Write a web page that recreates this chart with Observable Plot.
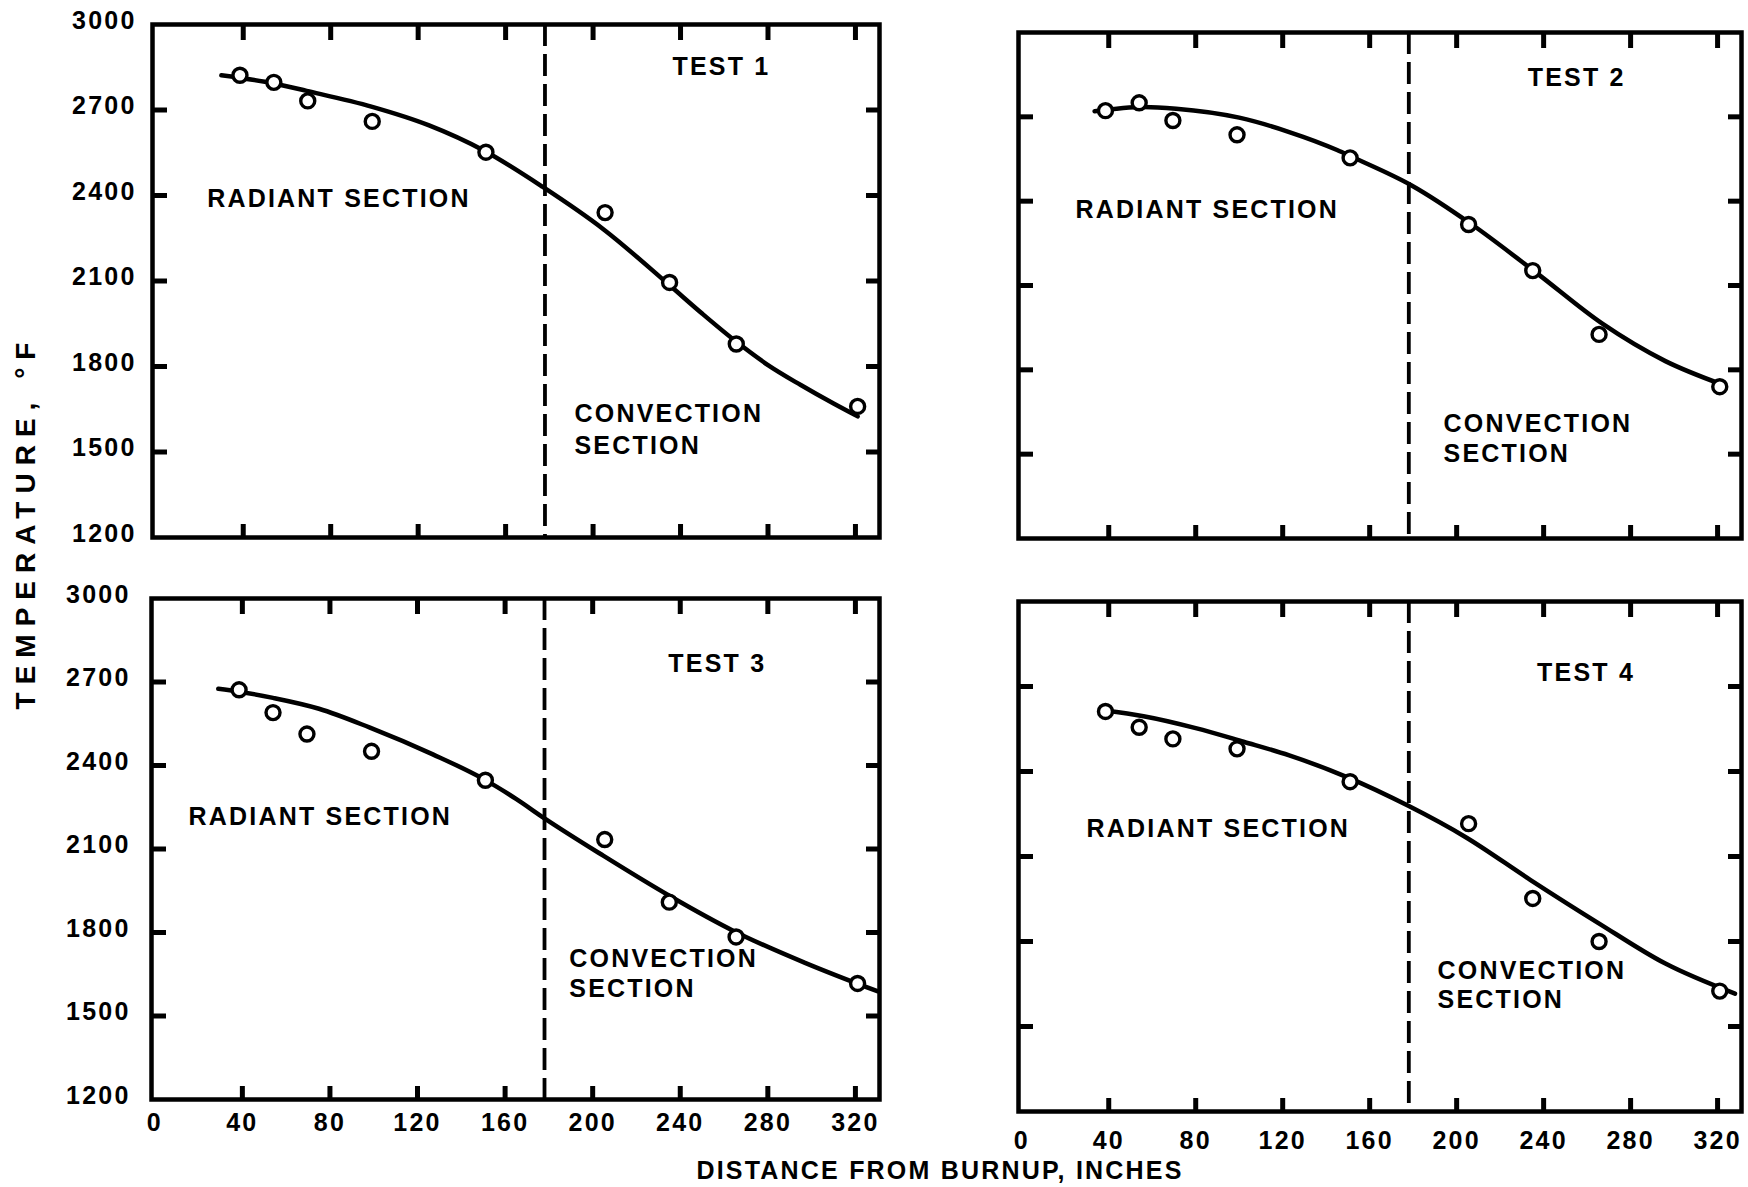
<!DOCTYPE html>
<html>
<head>
<meta charset="utf-8">
<script src="https://cdn.jsdelivr.net/npm/d3@7"></script>
<script src="https://cdn.jsdelivr.net/npm/@observablehq/plot@0.6"></script>
<style>
  html, body { margin: 0; padding: 0; background: #fff; overflow: hidden; }
  #wrap { position: relative; width: 1748px; height: 1187px; background: #fff;
          font-family: "Liberation Sans", Arial, Helvetica, sans-serif; font-weight: bold; color: #000; }
  #wrap svg { position: absolute; }
  .axis-title { position: absolute; white-space: nowrap; transform-origin: center center; }
</style>
</head>
<body>
<div id="wrap"></div>
<script>
// ---------------- data ----------------
const xTickValues = [0, 40, 80, 120, 160, 200, 240, 280, 320];
const yTickValues = [1200, 1500, 1800, 2100, 2400, 2700, 3000];
const panelTitles = ["TEST 1", "TEST 2", "TEST 3", "TEST 4"];
const radiantLabel = "RADIANT SECTION";
const convectionLabel = ["CONVECTION", "SECTION"];
const xAxisTitle = "DISTANCE FROM BURNUP, INCHES";
const yAxisTitle = "TEMPERATURE, °F";
const sectionBoundary = 178;

// measured points (distance from burnup, inches)
const distance = [38.5, 54, 69.5, 99, 151, 205.5, 235, 265.5, 321];
const test1Temp = [2822, 2797, 2732, 2660, 2552, 2340, 2095, 1879, 1660];
const test2Temp = [2722, 2750, 2687, 2636, 2554, 2317, 2153, 1926, 1740];
const test3Temp = [2672, 2590, 2513, 2451, 2347, 2134, 1909, 1784, 1617];
const test4Temp = [2612, 2556, 2515, 2480, 2364, 2216, 1952, 1800, 1625];

// fitted curves
const fit1Dist = [30, 54, 69, 99, 125, 150, 177, 205, 235, 250, 265, 280, 295, 310, 321];
const fit1Temp = [2822, 2793, 2767, 2711, 2646, 2558, 2430, 2280, 2085, 1985, 1890, 1805, 1735, 1670, 1625];
const fit2Dist = [33.5, 56, 71, 100, 123, 145, 152, 179.5, 207, 237, 267, 296, 322];
const fit2Temp = [2720, 2735, 2729, 2697, 2646, 2582, 2557, 2455, 2317, 2143, 1964, 1831, 1748];
const fit3Dist = [29, 38, 54, 75, 98, 127, 150, 165, 178, 205, 235, 265, 297, 330];
const fit3Temp = [2676, 2666, 2643, 2604, 2537, 2440, 2352, 2280, 2210, 2075, 1932, 1803, 1691, 1589];
const fit4Dist = [38, 56, 80, 102, 123, 149, 178, 204, 234, 265, 296, 328];
const fit4Temp = [2615, 2595, 2553, 2505, 2457, 2382, 2278, 2169, 2017, 1866, 1722, 1616];

// ---------------- layout ----------------
const FONT = '"Liberation Sans", Arial, Helvetica, sans-serif';
const FS = 25;
const panels = [
  { title: panelTitles[0], temp: test1Temp, fitX: fit1Dist, fitY: fit1Temp,
    frame: {l: 152, t: 24, r: 879, b: 537}, ml: 150, mr: 4, mt: 16, mb: 40,
    yLabels: true, yPad: 16, xLabels: false,
    ann: {test: [258.7, 2850], rad: [23.5, 2386], conv: [191.5, 1632], sect: [191.5, 1521]} },
  { title: panelTitles[1], temp: test2Temp, fitX: fit2Dist, fitY: fit2Temp,
    frame: {l: 1018, t: 32, r: 1741, b: 538}, ml: 20, mr: 5, mt: 16, mb: 40,
    yLabels: false, xLabels: false,
    ann: {test: [255.2, 2838], rad: [24.7, 2367], conv: [194, 1607], sect: [194, 1499]} },
  { title: panelTitles[2], temp: test3Temp, fitX: fit3Dist, fitY: fit3Temp,
    frame: {l: 151, t: 598, r: 879, b: 1099}, ml: 150, mr: 4, mt: 16, mb: 50,
    yLabels: true, yPad: 21, xLabels: true, xPad: 14,
    ann: {test: [256.9, 2764], rad: [15.4, 2215], conv: [189.3, 1703], sect: [189.3, 1596]} },
  { title: panelTitles[3], temp: test4Temp, fitX: fit4Dist, fitY: fit4Temp,
    frame: {l: 1018, t: 601, r: 1741, b: 1111}, ml: 20, mr: 5, mt: 16, mb: 50,
    yLabels: false, xLabels: true, xPad: 20,
    ann: {test: [259.5, 2746], rad: [29.8, 2196], conv: [191.2, 1694.5], sect: [191.2, 1592]} }
];

const wrap = document.getElementById("wrap");
const innerX = xTickValues.filter(v => v > 0);
const innerY = yTickValues.filter(v => v > 1200 && v < 3000);
const fmt = d => `${d}`;

for (const p of panels) {
  const {frame, ml, mr, mt, mb} = p;
  const width = frame.r - frame.l + ml + mr;
  const height = frame.b - frame.t + mt + mb;
  const pts = distance.map((d, i) => ({d, t: p.temp[i]}));
  const fit = p.fitX.map((d, i) => ({d, t: p.fitY[i]}));
  const centerText = [{x: p.ann.test[0], y: p.ann.test[1], s: p.title}];
  const startText = [
    {x: p.ann.rad[0], y: p.ann.rad[1], s: radiantLabel},
    {x: p.ann.conv[0], y: p.ann.conv[1], s: convectionLabel[0]},
    {x: p.ann.sect[0], y: p.ann.sect[1], s: convectionLabel[1]}
  ];
  const marks = [
    Plot.ruleX([sectionBoundary], {stroke: "#000", strokeWidth: 3.8, strokeDasharray: "22,8"}),
    Plot.line(fit, {x: "d", y: "t", curve: "monotone-x", stroke: "#000", strokeWidth: 4.5}),
    Plot.dot(pts, {x: "d", y: "t", r: 7, stroke: "#000", fill: "#fff", strokeWidth: 3.4}),
    Plot.axisX(innerX, {anchor: "top", tickSize: 15, dy: 15, fill: "none", stroke: "#000", strokeWidth: 5}),
    Plot.axisX(innerX, {anchor: "bottom", tickSize: 13, dy: -13, fill: "none", stroke: "#000", strokeWidth: 5}),
    Plot.axisY(innerY, {anchor: "left", tickSize: 15, dx: 15, fill: "none", stroke: "#000", strokeWidth: 5}),
    Plot.axisY(innerY, {anchor: "right", tickSize: 14, dx: -14, fill: "none", stroke: "#000", strokeWidth: 5}),
    Plot.frame({stroke: "#000", strokeWidth: 4.5}),
    Plot.text(centerText, {x: "x", y: "y", text: "s", textAnchor: "middle", fontSize: FS, fontWeight: "bold", fill: "#000"}),
    Plot.text(startText, {x: "x", y: "y", text: "s", textAnchor: "start", fontSize: FS, fontWeight: "bold", fill: "#000"})
  ];
  if (p.yLabels) {
    marks.push(Plot.axisY(yTickValues, {anchor: "left", tickSize: 0, tickPadding: p.yPad, dy: -4,
      tickFormat: fmt, fontSize: FS, fontWeight: "bold", fill: "#000"}));
  }
  if (p.xLabels) {
    marks.push(Plot.axisX(xTickValues, {anchor: "bottom", tickSize: 0, tickPadding: p.xPad,
      tickFormat: fmt, fontSize: FS, fontWeight: "bold", fill: "#000"}));
  }
  const chart = Plot.plot({
    width, height,
    marginLeft: ml, marginRight: mr, marginTop: mt, marginBottom: mb,
    x: {domain: [-1.5, 331]},
    y: {domain: [1200, 3000]},
    style: {fontFamily: FONT, fontWeight: "bold", fontSize: FS + "px", letterSpacing: "2.2px",
            background: "transparent", color: "#000", overflow: "visible"},
    marks
  });
  chart.style.left = (frame.l - ml) + "px";
  chart.style.top = (frame.t - mt) + "px";
  wrap.appendChild(chart);
}

// axis titles
const xt = document.createElement("div");
xt.className = "axis-title";
xt.textContent = xAxisTitle;
xt.style.cssText += "left:940px;top:1170px;font-size:25px;letter-spacing:2.2px;transform:translate(-50%,-50%);";
wrap.appendChild(xt);

const yt = document.createElement("div");
yt.className = "axis-title";
yt.textContent = yAxisTitle;
yt.style.cssText += "left:26px;top:522px;font-size:28px;letter-spacing:8px;transform:translate(-50%,-50%) rotate(-90deg);";
wrap.appendChild(yt);
</script>
</body>
</html>
